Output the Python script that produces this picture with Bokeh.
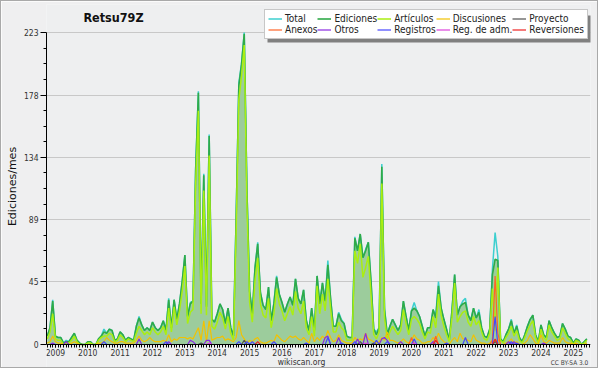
import pandas as pd
from bokeh.plotting import figure
from bokeh.models import (FixedTicker, Legend, LegendItem, Label, BoxAnnotation,
                          Range1d, ColumnDataSource)
from bokeh.embed import file_html
from bokeh.resources import INLINE

user = "Retsu79Z"
months = pd.period_range("2009-04", "2025-12", freq="M")

total = [
    6, 12, 32, 6, 5, 5, 1, 3, 2,
    5, 8, 3, 1, 0, 0, 2, 2, 0, 0, 4, 6,
    11, 8, 11, 10, 3, 4, 9, 7, 3, 5, 4, 3,
    13, 20, 14, 10, 12, 10, 16, 12, 10, 12, 17, 11,
    33, 12, 32, 18, 29, 45, 64, 20, 30, 31, 127, 181,
    29, 122, 28, 150, 18, 16, 22, 29, 25, 15, 26, 12,
    6, 92, 187, 201, 223, 111, 38, 23, 55, 73, 37, 28,
    25, 41, 17, 30, 49, 36, 30, 23, 29, 34, 28, 47,
    33, 29, 39, 18, 10, 26, 10, 49, 29, 44, 32, 60,
    33, 13, 13, 23, 18, 15, 6, 5, 5, 77, 67, 79,
    62, 68, 73, 45, 11, 9, 12, 129, 26, 8, 13, 18,
    14, 10, 14, 31, 20, 10, 24, 30, 24, 20, 13, 6,
    12, 12, 25, 21, 45, 26, 18, 11, 3, 24, 50, 21,
    27, 31, 33, 21, 18, 26, 19, 25, 12, 6, 5, 11,
    54, 80, 63, 4, 2, 7, 11, 18, 8, 14, 5, 2,
    7, 13, 18, 21, 7, 2, 14, 7, 5, 17, 12, 8,
    5, 6, 15, 11, 6, 5, 1, 4, 3, 0, 2, 4,
]
ediciones = [
    6, 12, 31, 6, 5, 5, 1, 2, 2,
    5, 8, 3, 1, 0, 0, 2, 2, 0, 0, 4, 6,
    9, 8, 11, 10, 3, 4, 9, 7, 3, 5, 4, 3,
    13, 19, 14, 10, 12, 10, 16, 12, 10, 12, 17, 10,
    32, 12, 32, 18, 29, 45, 64, 20, 29, 31, 125, 180,
    29, 121, 27, 149, 18, 16, 22, 29, 25, 15, 26, 12,
    6, 90, 185, 200, 222, 110, 38, 22, 55, 72, 37, 28,
    25, 41, 17, 29, 48, 36, 30, 23, 29, 34, 28, 47,
    33, 29, 39, 17, 10, 26, 10, 49, 29, 44, 31, 57,
    33, 13, 13, 22, 17, 15, 6, 5, 5, 76, 67, 79,
    62, 67, 73, 45, 11, 7, 12, 127, 25, 7, 13, 18,
    14, 10, 14, 31, 20, 10, 24, 26, 24, 20, 13, 6,
    12, 12, 25, 19, 42, 26, 18, 11, 3, 24, 50, 21,
    27, 29, 30, 21, 17, 26, 19, 23, 12, 6, 5, 11,
    50, 61, 60, 4, 2, 7, 11, 17, 8, 13, 5, 2,
    7, 13, 18, 21, 7, 2, 14, 7, 5, 17, 12, 8,
    5, 6, 15, 11, 6, 5, 1, 4, 3, 0, 2, 4,
]
articulos = [
    4, 9, 22, 4, 3, 3, 0, 1, 1,
    3, 6, 2, 0, 0, 0, 1, 1, 0, 0, 3, 5,
    6, 6, 8, 7, 2, 3, 7, 5, 2, 4, 3, 2,
    8, 13, 10, 7, 9, 7, 12, 9, 7, 9, 13, 7,
    26, 9, 27, 14, 24, 38, 56, 15, 23, 25, 115, 167,
    22, 110, 21, 135, 13, 11, 16, 23, 19, 11, 20, 8,
    3, 80, 175, 192, 214, 100, 30, 16, 46, 62, 29, 21,
    19, 33, 12, 22, 40, 29, 24, 17, 22, 27, 21, 38,
    26, 22, 31, 12, 7, 20, 6, 42, 22, 36, 24, 47,
    26, 9, 9, 16, 12, 10, 3, 3, 3, 67, 58, 72,
    48, 55, 63, 36, 7, 4, 9, 115, 19, 4, 9, 13,
    10, 7, 10, 25, 15, 7, 18, 20, 18, 15, 9, 4,
    9, 8, 20, 12, 36, 21, 13, 7, 2, 19, 44, 16,
    20, 23, 24, 16, 13, 20, 14, 17, 9, 4, 3, 8,
    40, 10, 55, 3, 1, 5, 8, 13, 6, 10, 3, 1,
    5, 10, 14, 17, 5, 1, 11, 5, 3, 14, 9, 6,
    3, 4, 12, 8, 4, 3, 0, 3, 2, 0, 1, 3,
]
discusiones = [
    1, 2, 6, 2, 1, 1, 0, 0, 0,
    1, 2, 1, 0, 0, 0, 0, 0, 0, 0, 1, 1,
    2, 5, 3, 2, 1, 1, 2, 2, 1, 1, 1, 1,
    3, 6, 3, 2, 3, 5, 3, 2, 2, 2, 3, 2,
    7, 2, 4, 3, 5, 5, 5, 4, 5, 4, 8, 12,
    3, 17, 2, 17, 3, 4, 5, 5, 6, 3, 4, 3,
    2, 5, 17, 7, 4, 1, 3, 2, 4, 5, 2, 1,
    1, 2, 3, 2, 7, 5, 3, 2, 4, 6, 5, 6,
    4, 3, 5, 3, 1, 8, 2, 5, 3, 6, 4, 10,
    5, 2, 3, 7, 3, 2, 1, 1, 1, 5, 3, 4,
    3, 8, 4, 3, 2, 1, 2, 5, 3, 9, 3, 3,
    2, 1, 2, 4, 2, 1, 3, 7, 4, 3, 1, 1,
    2, 2, 5, 3, 8, 4, 2, 1, 0, 3, 5, 2,
    8, 4, 4, 3, 2, 7, 3, 2, 1, 1, 0, 1,
    3, 2, 4, 0, 0, 1, 2, 4, 1, 2, 0, 0,
    1, 3, 7, 4, 1, 0, 7, 2, 1, 3, 2, 1,
    1, 1, 5, 2, 1, 1, 0, 1, 0, 0, 0, 1,
]
proyecto = [
    0, 0, 0, 0, 0, 0, 0, 0, 0,
    0, 0, 0, 0, 0, 0, 0, 0, 0, 0, 0, 0,
    0, 0, 0, 0, 0, 0, 0, 0, 0, 0, 0, 0,
    0, 0, 0, 0, 0, 0, 0, 0, 0, 0, 0, 0,
    0, 0, 0, 0, 0, 0, 0, 0, 0, 0, 0, 0,
    1, 0, 0, 0, 0, 0, 0, 0, 0, 0, 0, 0,
    0, 0, 0, 0, 3, 0, 0, 0, 0, 0, 0, 0,
    0, 0, 0, 0, 0, 0, 0, 0, 0, 0, 0, 0,
    0, 0, 0, 0, 0, 0, 0, 0, 0, 0, 0, 0,
    0, 0, 0, 0, 0, 0, 0, 0, 0, 0, 0, 2,
    0, 0, 0, 0, 1, 0, 0, 0, 0, 0, 0, 0,
    0, 0, 0, 0, 0, 0, 0, 0, 0, 0, 0, 0,
    0, 0, 0, 0, 0, 0, 0, 0, 0, 0, 0, 0,
    0, 0, 0, 0, 0, 0, 0, 0, 0, 0, 0, 0,
    0, 2, 0, 0, 0, 0, 0, 0, 0, 0, 0, 0,
    0, 0, 0, 0, 0, 0, 0, 0, 0, 0, 0, 0,
    0, 0, 0, 0, 0, 0, 0, 0, 0, 0, 0, 0,
]
anexos = [
    0, 0, 0, 0, 0, 0, 0, 0, 0,
    0, 0, 0, 0, 0, 0, 0, 0, 0, 0, 0, 0,
    0, 0, 0, 0, 0, 0, 0, 0, 0, 0, 0, 0,
    0, 0, 0, 0, 0, 0, 0, 0, 0, 0, 0, 0,
    0, 0, 0, 0, 0, 0, 0, 0, 0, 0, 0, 0,
    0, 0, 0, 0, 0, 0, 0, 0, 0, 0, 0, 0,
    0, 0, 0, 0, 0, 0, 0, 0, 0, 0, 0, 0,
    0, 0, 0, 0, 0, 0, 0, 0, 0, 0, 0, 0,
    0, 0, 0, 0, 0, 0, 0, 0, 0, 0, 0, 0,
    0, 0, 0, 0, 0, 0, 0, 0, 0, 0, 0, 0,
    0, 0, 0, 0, 0, 0, 0, 0, 0, 0, 0, 0,
    0, 0, 0, 0, 0, 0, 5, 0, 0, 0, 0, 0,
    0, 0, 0, 6, 0, 0, 0, 0, 0, 0, 0, 0,
    0, 0, 0, 0, 0, 0, 0, 0, 0, 0, 0, 0,
    3, 49, 8, 0, 0, 0, 0, 0, 0, 0, 0, 0,
    0, 0, 0, 0, 0, 0, 0, 0, 0, 0, 0, 0,
    0, 0, 0, 0, 0, 0, 0, 0, 0, 0, 0, 0,
]
otros = [
    0, 0, 1, 0, 0, 0, 0, 2, 0,
    0, 0, 0, 0, 0, 0, 0, 0, 0, 0, 0, 0,
    0, 0, 0, 0, 0, 0, 0, 0, 0, 0, 0, 0,
    0, 4, 0, 0, 0, 0, 0, 0, 0, 0, 0, 0,
    2, 0, 0, 0, 0, 0, 0, 0, 3, 2, 0, 0,
    0, 0, 3, 3, 0, 0, 0, 0, 0, 0, 0, 0,
    0, 0, 0, 0, 0, 0, 0, 0, 0, 0, 0, 0,
    0, 0, 0, 0, 0, 0, 0, 0, 0, 0, 0, 0,
    0, 0, 0, 0, 0, 0, 0, 0, 0, 0, 5, 6,
    0, 0, 0, 5, 0, 0, 0, 0, 0, 0, 4, 0,
    0, 8, 0, 0, 0, 0, 0, 4, 5, 3, 0, 0,
    0, 0, 2, 0, 0, 0, 0, 0, 0, 0, 0, 0,
    0, 0, 2, 0, 0, 0, 0, 0, 0, 0, 0, 0,
    0, 0, 0, 0, 0, 0, 0, 0, 0, 0, 0, 0,
    0, 0, 0, 0, 0, 0, 2, 0, 2, 0, 0, 0,
    0, 0, 0, 0, 0, 0, 0, 1, 0, 0, 0, 0,
    0, 0, 0, 0, 0, 0, 0, 0, 0, 0, 0, 0,
]
registros = [
    0, 0, 0, 0, 0, 0, 0, 0, 0,
    0, 0, 0, 0, 0, 0, 0, 0, 0, 0, 0, 0,
    2, 0, 0, 0, 0, 0, 0, 0, 0, 0, 0, 0,
    0, 0, 0, 0, 0, 0, 0, 0, 0, 0, 0, 2,
    0, 0, 0, 0, 0, 0, 0, 0, 0, 0, 0, 0,
    0, 0, 0, 0, 0, 0, 0, 0, 0, 0, 0, 0,
    0, 0, 2, 0, 0, 2, 0, 2, 0, 0, 0, 0,
    0, 0, 0, 2, 0, 0, 0, 0, 0, 0, 0, 0,
    0, 0, 0, 1, 0, 0, 0, 0, 0, 0, 0, 5,
    0, 0, 0, 0, 1, 0, 0, 0, 0, 2, 0, 0,
    0, 0, 0, 0, 0, 3, 0, 0, 0, 2, 0, 0,
    0, 0, 0, 0, 0, 0, 0, 4, 0, 0, 0, 0,
    0, 0, 0, 0, 0, 0, 0, 1, 0, 0, 0, 0,
    0, 0, 5, 0, 0, 0, 0, 0, 0, 0, 0, 0,
    0, 20, 0, 0, 0, 0, 0, 2, 0, 1, 0, 0,
    0, 0, 0, 0, 0, 0, 0, 0, 0, 0, 0, 0,
    0, 0, 0, 0, 0, 0, 0, 0, 0, 0, 0, 0,
]
reg_adm = [
    0, 0, 0, 0, 0, 0, 0, 0, 0,
    0, 0, 0, 0, 0, 0, 0, 0, 0, 0, 0, 0,
    0, 0, 0, 0, 0, 0, 0, 0, 0, 0, 0, 0,
    0, 0, 0, 0, 0, 0, 0, 0, 0, 0, 0, 0,
    0, 0, 0, 0, 0, 0, 0, 0, 0, 0, 0, 0,
    0, 0, 0, 1, 0, 0, 0, 0, 0, 0, 0, 0,
    0, 0, 0, 0, 0, 0, 0, 0, 0, 0, 0, 0,
    0, 0, 0, 0, 0, 0, 0, 0, 0, 0, 0, 0,
    0, 0, 0, 0, 0, 0, 0, 0, 0, 0, 0, 0,
    0, 0, 0, 0, 0, 0, 0, 0, 0, 0, 0, 0,
    0, 1, 0, 0, 0, 0, 0, 0, 0, 0, 0, 0,
    0, 0, 0, 0, 0, 0, 0, 1, 0, 0, 0, 0,
    0, 0, 0, 0, 0, 0, 0, 0, 0, 0, 0, 0,
    0, 0, 0, 0, 0, 0, 0, 0, 0, 0, 0, 0,
    0, 0, 0, 0, 0, 0, 0, 0, 0, 0, 0, 0,
    0, 0, 0, 0, 0, 0, 0, 0, 0, 0, 0, 0,
    0, 0, 0, 0, 0, 0, 0, 0, 0, 0, 0, 0,
]
reversiones = [
    0, 0, 0, 0, 0, 0, 0, 0, 0,
    0, 0, 0, 0, 0, 0, 0, 0, 0, 0, 0, 0,
    0, 0, 0, 0, 0, 0, 0, 0, 0, 0, 0, 0,
    0, 0, 0, 0, 0, 0, 0, 0, 0, 0, 0, 0,
    0, 0, 0, 0, 0, 0, 0, 0, 0, 0, 0, 0,
    0, 0, 0, 0, 0, 0, 0, 0, 0, 0, 0, 0,
    0, 0, 0, 0, 0, 0, 0, 0, 0, 2, 0, 0,
    0, 0, 0, 0, 0, 0, 0, 0, 0, 0, 0, 0,
    0, 0, 0, 0, 0, 0, 0, 0, 0, 0, 0, 0,
    0, 0, 0, 0, 0, 0, 0, 0, 0, 0, 0, 0,
    0, 0, 0, 0, 0, 0, 0, 0, 0, 0, 0, 0,
    0, 0, 0, 0, 0, 0, 0, 0, 0, 0, 0, 0,
    0, 0, 0, 3, 0, 0, 0, 0, 0, 0, 0, 0,
    0, 0, 0, 0, 0, 0, 0, 0, 0, 0, 0, 0,
    0, 4, 0, 0, 0, 0, 0, 0, 0, 0, 0, 0,
    0, 0, 0, 0, 0, 0, 0, 0, 0, 0, 0, 0,
    0, 0, 0, 0, 0, 0, 0, 0, 0, 0, 0, 0,
]

year_labels = list(range(2009, 2026))
y_tick_labels = [0, 45, 89, 134, 178, 223]

series = [
    ("Total", "total", total, "#3ccfcf", 1.5),
    ("Ediciones", "ediciones", ediciones, "#2faa48", 1.6),
    ("Artículos", "articulos", articulos, "#aaee11", 1.5),
    ("Discusiones", "discusiones", discusiones, "#f2c200", 1.2),
    ("Proyecto", "proyecto", proyecto, "#505050", 1.2),
    ("Anexos", "anexos", anexos, "#ff6428", 1.2),
    ("Otros", "otros", otros, "#8a2be2", 1.2),
    ("Registros", "registros", registros, "#4646ff", 1.2),
    ("Reg. de adm.", "reg_adm", reg_adm, "#dd44dd", 1.2),
    ("Reversiones", "reversiones", reversiones, "#ee2222", 1.2),
]

t = (months.year + (months.month - 1) / 12).to_numpy(dtype=float)
data = {"t": t}
for _, key, vals, _, _ in series:
    data[key] = vals
src = ColumnDataSource(data)

FONT = "DejaVu Sans Condensed"
# Frame covers the whole inner canvas (page y 4..368); the value range 0..223
# occupies 312 px (page y 344..32); the x axis is pinned at y = 0.
PX_PER_UNIT = 312 / 223
Y_BOTTOM = -(368 - 344) / PX_PER_UNIT
Y_TOP = (344 - 4) / PX_PER_UNIT

p = figure(width=598, height=368,
           x_range=Range1d(2009.225, 2026.03), y_range=Range1d(Y_BOTTOM, Y_TOP),
           output_backend="svg", toolbar_location=None, title=None,
           min_border_left=45, min_border_right=9, min_border_top=3,
           min_border_bottom=1)
p.styles = {"border": "1px solid #a9a9a9"}
p.border_fill_color = "#efeff0"
p.background_fill_color = "#eeeff0"
p.outline_line_color = None

# area under Ediciones
p.varea(x="t", y1=0, y2="ediciones", source=src, fill_color="#9ccc9c", fill_alpha=1)

renderers = {}
for lab, key, _, col, lw in series:
    renderers[lab] = p.line("t", key, source=src, line_color=col, line_width=lw)

# axes
xa = p.xaxis[0]
xa.fixed_location = 0
xa.ticker = FixedTicker(ticks=[y + 0.5 for y in year_labels], minor_ticks=list(t) + [2026.0])
xa.major_label_overrides = {y + 0.5: str(y) for y in year_labels}
xa.major_tick_out = 3
xa.major_tick_in = 0
xa.minor_tick_out = 3
xa.minor_tick_in = 0
xa.major_label_standoff = 1
xa.major_label_text_font = FONT
xa.major_label_text_font_size = "8.5px"
xa.major_label_text_color = "#333333"
xa.axis_line_color = "black"
xa.major_tick_line_color = "black"
xa.minor_tick_line_color = "black"

ya = p.yaxis[0]
minor_y = []
for a, b in zip(y_tick_labels[:-1], y_tick_labels[1:]):
    minor_y += [a + (b - a) * k / 4 for k in range(1, 4)]
ya.ticker = FixedTicker(ticks=y_tick_labels, minor_ticks=minor_y)
ya.bounds = (0, 223)
ya.major_tick_out = 6
ya.major_tick_in = 0
ya.minor_tick_out = 3
ya.minor_tick_in = 0
ya.major_label_standoff = 2
ya.major_label_text_font = FONT
ya.major_label_text_font_size = "8.5px"
ya.major_label_text_color = "#333333"
ya.axis_label = "Ediciones/mes"
ya.axis_label_text_font = "DejaVu Sans"
ya.axis_label_text_font_size = "11px"
ya.axis_label_text_font_style = "normal"
ya.axis_label_text_color = "#111111"
ya.axis_label_standoff = 2
ya.axis_line_color = "black"

p.xgrid.grid_line_color = None
p.ygrid.grid_line_color = "#c8c8c8"
p.ygrid.grid_line_width = 1

# legend shadow (screen units measured from the frame's bottom-left corner)
p.add_layout(BoxAnnotation(left=221, right=545, bottom=326, top=353,
                           left_units="screen", right_units="screen",
                           bottom_units="screen", top_units="screen",
                           fill_color="#808080", fill_alpha=1, line_color=None))

legend = Legend(items=[LegendItem(label=lab, renderers=[renderers[lab]]) for lab, *_ in series],
                location=(218, 329), orientation="horizontal", ncols=5,
                glyph_width=14, glyph_height=9, label_standoff=3, label_height=9,
                spacing=0, padding=3, margin=0,
                label_text_font=FONT, label_text_font_size="10px",
                label_text_color="#222222",
                background_fill_color="white", background_fill_alpha=1,
                border_line_color="#909090", border_line_width=1)
p.add_layout(legend)

p.add_layout(Label(x=67, y=351.5, x_units="screen", y_units="screen", text=user,
                   text_font=FONT, text_font_style="bold", text_font_size="12.5px",
                   text_align="center", text_baseline="middle", text_color="#111111"))
p.add_layout(Label(x=255, y=7, x_units="screen", y_units="screen", text="wikiscan.org",
                   text_font=FONT, text_font_size="8.5px",
                   text_align="center", text_baseline="middle", text_color="#333333"))
p.add_layout(Label(x=523, y=6, x_units="screen", y_units="screen", text="CC BY-SA 3.0",
                   text_font=FONT, text_font_size="6.5px",
                   text_align="center", text_baseline="middle", text_color="#444444"))

open("out.html", "w").write(file_html(p, INLINE))
